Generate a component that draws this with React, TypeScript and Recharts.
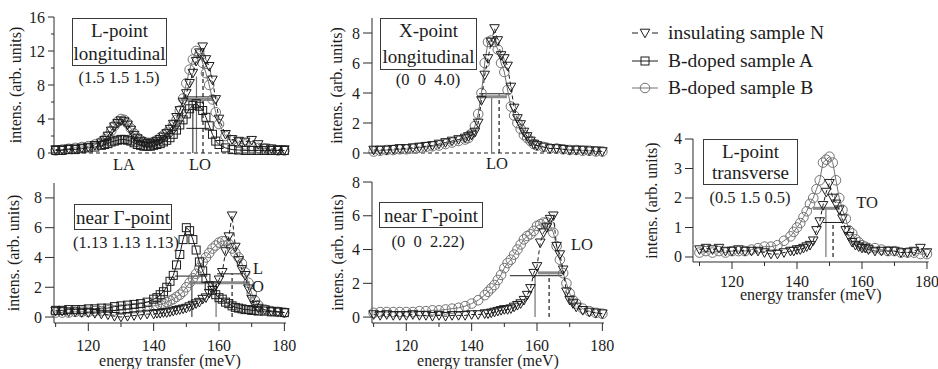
import React from 'react'
import { ScatterChart, Scatter, XAxis, YAxis, ReferenceLine } from 'recharts'

const FONT = '"Liberation Serif", "Times New Roman", Times, serif'
const INK = '#1c1c1c'
const GREY = '#727272'
const AXIS = '#2a2a2a'
const SVG_TEXT = { fontFamily: FONT, fontSize: 16, fill: INK }

// ---- data: energy transfer (meV) / intensity (arb. units) ----

// L-point longitudinal (1.5 1.5 1.5)
const eLLong = [110, 112, 114, 116, 118, 120, 122, 124,
  125, 126, 127, 128, 129, 130, 131, 132, 133, 134, 135, 136, 137, 138, 139, 140, 141, 142,
  143, 144, 145, 146, 147, 148, 149, 150, 151, 152, 153, 154, 155, 156, 157, 158, 159, 160,
  162, 164, 166, 168, 170, 172, 174, 176, 178, 180]
const lLongN = [0.4, 0.4, 0.5, 0.5, 0.6, 0.7, 0.9, 1.2,
  1.5, 2.0, 2.6, 3.1, 3.5, 3.8, 3.7, 3.3, 2.7, 2.1, 1.7, 1.4, 1.2, 1.1, 1.1, 1.2, 1.4, 1.6,
  1.9, 2.3, 2.8, 3.4, 4.2, 5.0, 6.0, 7.0, 8.2, 9.4, 10.8, 11.8, 12.5, 11.0, 10.2, 8.6, 6.3, 4.0,
  2.2, 1.6, 1.4, 1.3, 1.5, 1.0, 0.6, 0.5, 0.4, 0.4]
const lLongA = [0.3, 0.3, 0.4, 0.4, 0.5, 0.6, 0.7, 0.9,
  1.0, 1.1, 1.3, 1.4, 1.5, 1.6, 1.6, 1.5, 1.4, 1.2, 1.0, 0.9, 0.8, 0.8, 0.8, 0.9, 1.0, 1.1,
  1.3, 1.5, 1.8, 2.2, 2.7, 3.3, 3.9, 4.6, 5.2, 5.6, 5.8, 5.5, 5.0, 4.2, 3.2, 2.2, 1.4, 1.0,
  0.6, 0.4, 0.35, 0.3, 0.3, 0.3, 0.3, 0.3, 0.3, 0.3]
const lLongB = [0.3, 0.4, 0.5, 0.6, 0.7, 0.8, 1.0, 1.3,
  1.6, 2.0, 2.6, 3.2, 3.7, 4.0, 3.9, 3.5, 2.9, 2.3, 1.8, 1.5, 1.3, 1.2, 1.2, 1.3, 1.5, 1.8,
  2.1, 2.4, 2.8, 3.3, 3.9, 5.0, 6.4, 8.2, 9.8, 11.0, 12.0, 11.6, 10.6, 9.4, 8.0, 6.3, 4.8, 3.4,
  2.0, 1.5, 1.2, 1.0, 0.8, 0.6, 0.5, 0.4, 0.3, 0.3]

// X-point longitudinal (0 0 4.0)
const eXLong = [110, 112, 114, 116, 118, 120, 122, 124, 126, 128, 130, 132, 134, 136, 138,
  139, 140, 141, 142, 143, 144, 145, 146, 147, 148, 149, 150, 151, 152, 153, 154, 155, 156,
  157, 158, 159, 160, 162, 164, 166, 168, 170, 172, 174, 176, 178, 180]
const xLongN = [0.2, 0.2, 0.2, 0.25, 0.3, 0.3, 0.35, 0.4, 0.45, 0.5, 0.6, 0.7, 0.8, 0.9, 1.0,
  1.1, 1.2, 1.4, 2.0, 3.5, 5.2, 6.3, 7.4, 8.3, 7.5, 6.5, 6.3, 5.8, 4.4, 3.0, 2.3, 1.9, 1.4,
  1.1, 0.8, 0.6, 0.5, 0.4, 0.3, 0.3, 0.25, 0.2, 0.2, 0.2, 0.15, 0.15, 0.1]
const xLongB = [0.1, 0.15, 0.2, 0.2, 0.25, 0.25, 0.3, 0.35, 0.4, 0.45, 0.5, 0.6, 0.7, 0.8, 0.9,
  1.0, 1.3, 1.8, 2.6, 4.0, 6.0, 7.4, 7.5, 7.4, 6.9, 6.0, 5.4, 4.2, 3.1, 2.5, 2.0, 1.6, 1.2,
  1.0, 0.8, 0.6, 0.5, 0.4, 0.3, 0.3, 0.25, 0.2, 0.2, 0.15, 0.15, 0.1, 0.1]

// near Gamma-point (1.13 1.13 1.13)
const eGam1 = [110, 112, 114, 116, 118, 120, 122, 124, 126, 128, 130, 132, 134, 136, 138, 140,
  141, 142, 143, 144, 145, 146, 147, 148, 149, 150, 151, 152, 153, 154, 155, 156, 157, 158,
  159, 160, 161, 162, 163, 164, 165, 166, 167, 168, 169, 170, 171, 172, 174, 176, 178, 180]
const gam1N = [0.4, 0.4, 0.35, 0.35, 0.3, 0.3, 0.25, 0.2, 0.15, 0.05, 0.0, 0.05, 0.1, 0.15, 0.2, 0.2,
  0.25, 0.25, 0.3, 0.3, 0.35, 0.4, 0.45, 0.5, 0.55, 0.6, 0.7, 0.8, 0.9, 1.0, 1.2, 1.3, 1.6, 1.8,
  2.1, 2.5, 3.0, 4.4, 5.4, 6.8, 4.7, 3.8, 3.2, 2.8, 1.9, 1.2, 0.8, 0.6, 0.5, 0.4, 0.35, 0.3]
const gam1A = [0.45, 0.45, 0.5, 0.5, 0.5, 0.55, 0.55, 0.6, 0.6, 0.7, 0.75, 0.8, 0.85, 0.9, 1.0, 1.2,
  1.3, 1.5, 1.7, 2.0, 2.4, 2.8, 3.5, 4.2, 5.2, 6.0, 5.8, 5.2, 4.5, 3.7, 3.1, 2.6, 2.1, 1.8,
  1.5, 1.3, 1.2, 1.0, 0.9, 0.75, 0.65, 0.6, 0.55, 0.5, 0.5, 0.45, 0.45, 0.4, 0.4, 0.35, 0.35, 0.3]
const gam1B = [0.3, 0.3, 0.3, 0.35, 0.35, 0.35, 0.4, 0.4, 0.45, 0.45, 0.5, 0.55, 0.6, 0.65, 0.7, 0.75,
  0.8, 0.85, 0.9, 1.0, 1.1, 1.2, 1.35, 1.5, 1.7, 2.0, 2.3, 2.6, 2.9, 3.3, 3.7, 4.0, 4.3, 4.6,
  4.8, 5.0, 5.1, 5.1, 4.9, 4.6, 4.3, 4.0, 3.6, 3.0, 2.3, 1.6, 1.1, 0.8, 0.5, 0.4, 0.35, 0.3]

// near Gamma-point (0 0 2.22)
const eGam2 = [110, 112, 114, 116, 118, 120, 122, 124, 126, 128, 130, 132, 134, 136, 138, 140, 142, 144,
  145, 146, 147, 148, 149, 150, 151, 152, 153, 154, 155, 156, 157, 158, 159, 160, 161, 162,
  163, 164, 165, 166, 167, 168, 169, 170, 171, 172, 174, 176, 178, 180]
const gam2N = [0.15, 0.1, 0.15, 0.1, 0.1, 0.1, 0.15, 0.1, 0.1, 0.05, 0.1, 0.05, 0.1, 0.1, 0.1, 0.15, 0.15, 0.2,
  0.2, 0.25, 0.3, 0.35, 0.4, 0.45, 0.45, 0.5, 0.6, 0.7, 0.8, 1.0, 1.3, 1.7, 2.6, 3.0, 4.4, 5.0,
  5.3, 5.8, 6.0, 4.2, 3.7, 2.8, 1.5, 1.0, 0.8, 0.6, 0.4, 0.3, 0.25, 0.2]
const gam2B = [0.25, 0.3, 0.3, 0.3, 0.3, 0.3, 0.3, 0.35, 0.35, 0.4, 0.4, 0.45, 0.5, 0.55, 0.65, 0.8, 1.0, 1.3,
  1.5, 1.7, 1.9, 2.2, 2.5, 2.9, 3.2, 3.4, 3.7, 4.0, 4.3, 4.6, 4.8, 4.9, 5.1, 5.4, 5.5, 5.6,
  5.6, 5.4, 5.0, 4.2, 3.4, 2.6, 2.0, 1.4, 1.0, 0.8, 0.5, 0.35, 0.25, 0.2]

// L-point transverse (0.5 1.5 0.5)
const eLTrans = [110, 112, 114, 116, 118, 120, 122, 124, 126, 128, 130, 132, 134, 136, 138,
  139, 140, 141, 142, 143, 144, 145, 146, 147, 148, 149, 150, 151, 152, 153, 154, 155, 156,
  157, 158, 159, 160, 161, 162, 164, 166, 168, 170, 172, 174, 176, 178, 180]
const lTransN = [0.25, 0.3, 0.25, 0.3, 0.2, 0.2, 0.25, 0.2, 0.2, 0.2, 0.15, 0.1, 0.1, 0.15, 0.2,
  0.2, 0.25, 0.25, 0.3, 0.35, 0.4, 0.55, 0.9, 1.2, 1.75, 2.2, 2.5, 2.0, 1.8, 1.6, 1.3, 0.9, 0.7,
  0.5, 0.4, 0.35, 0.3, 0.3, 0.25, 0.2, 0.2, 0.2, 0.2, 0.15, 0.15, 0.2, 0.3, 0.15]
const lTransB = [0.15, 0.2, 0.15, 0.2, 0.15, 0.2, 0.2, 0.2, 0.25, 0.3, 0.35, 0.35, 0.4, 0.55, 0.7,
  0.85, 1.0, 1.15, 1.35, 1.55, 1.8, 2.0, 2.3, 2.6, 3.2, 3.3, 3.4, 3.2, 2.6, 2.0, 1.6, 1.3, 0.9,
  0.8, 0.6, 0.5, 0.4, 0.35, 0.3, 0.3, 0.25, 0.2, 0.2, 0.15, 0.15, 0.15, 0.1, 0.1]

// peak positions (vertical) and half-maximum widths (horizontal): [x1, y1, x2, y2, style]
// k = black, g = grey, d = black dashed, G = thick grey
type Mark = [number, number, number, number, 'k' | 'g' | 'd' | 'G']
const lLongMarks: Mark[] = [
  [152.0, 0, 152.0, 5.5, 'k'], [153.1, 0, 153.1, 9.0, 'g'], [155.1, 0, 155.1, 11.8, 'd'],
  [148.2, 6.3, 158.2, 6.3, 'G'], [149.0, 6.6, 158.8, 6.6, 'k'], [150.0, 2.9, 157.0, 2.9, 'k'],
]
const xLongMarks: Mark[] = [
  [146.1, 0, 146.1, 3.8, 'g'], [148.4, 0, 148.4, 3.9, 'd'],
  [141.8, 3.75, 150.8, 3.75, 'G'], [142.3, 3.95, 152.1, 3.95, 'k'],
]
const gam1Marks: Mark[] = [
  [151.7, 0, 151.7, 2.75, 'k'], [159.1, 0, 159.1, 2.3, 'g'], [164.0, 0, 164.0, 2.9, 'd'],
  [146.5, 2.75, 156.4, 2.75, 'k'], [151.1, 2.3, 169.5, 2.3, 'G'], [159.4, 2.9, 167.4, 2.9, 'k'],
]
const gam2Marks: Mark[] = [
  [159.4, 0, 159.4, 2.5, 'g'], [163.7, 0, 163.7, 2.5, 'd'],
  [151.7, 2.45, 167.7, 2.45, 'k'], [160.3, 2.62, 167.7, 2.62, 'G'],
]
const lTransMarks: Mark[] = [
  [148.9, 0, 148.9, 1.65, 'g'], [151.1, 0, 151.1, 1.17, 'd'],
  [144.9, 1.65, 153.2, 1.65, 'G'], [148.0, 1.17, 154.5, 1.17, 'k'],
]

const X_TICKS = [110, 120, 130, 140, 150, 160, 170, 180]

type Pt = { x: number; y: number }
const pts = (xs: number[], ys: number[]): Pt[] => xs.map((x, i) => ({ x, y: ys[i] }))

type Kind = 'N' | 'A' | 'B'

function TriDown(p: any) {
  const { cx, cy } = p
  if (cx == null || cy == null) return <g />
  return (
    <path d={`M${cx - 4.8},${cy - 3.8}L${cx + 4.8},${cy - 3.8}L${cx},${cy + 4.8}Z`}
      fill="none" stroke={INK} strokeWidth={1} />
  )
}
function Square(p: any) {
  const { cx, cy } = p
  if (cx == null || cy == null) return <g />
  return <rect x={cx - 4} y={cy - 4} width={8} height={8} fill="none" stroke={INK} strokeWidth={1} />
}
function Ring(p: any) {
  const { cx, cy } = p
  if (cx == null || cy == null) return <g />
  return <circle cx={cx} cy={cy} r={4.8} fill="none" stroke={GREY} strokeWidth={1} />
}

const SHAPES: Record<Kind, any> = { N: TriDown, A: Square, B: Ring }
const LINES: Record<Kind, any> = {
  N: { stroke: INK, strokeWidth: 1, strokeDasharray: '4 3' },
  A: { stroke: INK, strokeWidth: 1 },
  B: { stroke: GREY, strokeWidth: 1 },
}
const MARK_STYLE: Record<string, any> = {
  k: { stroke: INK, strokeWidth: 1 },
  g: { stroke: GREY, strokeWidth: 1.2 },
  d: { stroke: INK, strokeWidth: 1.2, strokeDasharray: '4 3' },
  G: { stroke: '#8a8a8a', strokeWidth: 3 },
}

interface PanelProps {
  left: number
  top: number
  w: number
  h: number
  xDomain: [number, number]
  yDomain: [number, number]
  yTicks: number[]
  yLabels: number[]
  yTickLen: number
  titleOff: number
  showX?: boolean
  xTickLen?: number
  tickDy?: number
  titleDy?: number
  baseline?: boolean
  series: { kind: Kind; data: Pt[] }[]
  marks: Mark[]
}

function Panel(props: PanelProps) {
  const { left, top, w, h, xDomain, yDomain, yTicks, yLabels, yTickLen, titleOff,
    showX = false, xTickLen = 8, tickDy = 29, titleDy = 45, baseline = false, series, marks } = props
  const axisW = 50
  const mTop = 12
  const width = axisW + w + 10
  const height = mTop + h + 10 + (showX ? 50 : 0)

  const yTick = (p: any) => {
    const v = p.payload.value
    const major = yLabels.includes(v)
    return (
      <g>
        <line x1={p.x} x2={p.x - (major ? yTickLen : yTickLen / 2)} y1={p.y} y2={p.y} stroke={AXIS} />
        {major && (
          <text x={p.x - yTickLen - 3} y={p.y + 5.5} textAnchor="end" style={SVG_TEXT}>{v}</text>
        )}
      </g>
    )
  }
  const xTick = (p: any) => {
    const v = p.payload.value
    const major = v % 20 === 0
    return (
      <g>
        <line x1={p.x} x2={p.x} y1={p.y} y2={p.y + (major ? xTickLen : 4)} stroke={AXIS} />
        {major && (
          <text x={p.x} y={p.y + tickDy} textAnchor="middle" style={SVG_TEXT}>{v}</text>
        )}
      </g>
    )
  }
  const yTitle = () => {
    const tx = axisW - titleOff
    const ty = mTop + h / 2
    return (
      <text x={tx} y={ty} transform={`rotate(-90 ${tx} ${ty})`} textAnchor="middle"
        dominantBaseline="central" style={SVG_TEXT}>
        intens. (arb. units)
      </text>
    )
  }
  const xTitle = () => (
    <text x={axisW + w / 2} y={mTop + h + titleDy} textAnchor="middle" style={SVG_TEXT}>
      energy transfer (meV)
    </text>
  )

  return (
    <div style={{ position: 'absolute', left: left - axisW, top: top - mTop }}>
      <ScatterChart width={width} height={height} margin={{ top: mTop, right: 10, bottom: 10, left: 0 }}>
        <XAxis type="number" dataKey="x" domain={xDomain} hide={!showX} ticks={X_TICKS}
          interval={0} height={50} tickSize={0} tickMargin={0} tickLine={false}
          axisLine={{ stroke: AXIS }} tick={xTick} label={xTitle} />
        <YAxis type="number" dataKey="y" domain={yDomain} ticks={yTicks} interval={0}
          width={axisW} tickSize={0} tickMargin={0} tickLine={false}
          axisLine={{ stroke: AXIS }} tick={yTick} label={yTitle} />
        {baseline && <ReferenceLine y={0} stroke={INK} strokeDasharray="4 3" />}
        {series.map((s, i) => (
          <Scatter key={i} data={s.data} shape={SHAPES[s.kind]} line={LINES[s.kind]}
            lineType="joint" isAnimationActive={false} />
        ))}
        {marks.map((m, i) => (
          <ReferenceLine key={`m${i}`} segment={[{ x: m[0], y: m[1] }, { x: m[2], y: m[3] }]}
            ifOverflow="visible" {...MARK_STYLE[m[4]]} />
        ))}
      </ScatterChart>
    </div>
  )
}

function Note({ x, y, text, size = 16.5 }: { x: number; y: number; text: string; size?: number }) {
  return (
    <div style={{
      position: 'absolute', left: x, top: y, transform: 'translate(-50%, -50%)',
      whiteSpace: 'pre', fontSize: size, lineHeight: 1, color: INK,
    }}>{text}</div>
  )
}

function Box({ left, top, width, height, lines, pitch = 23 }:
  { left: number; top: number; width: number; height: number; lines: string[]; pitch?: number }) {
  return (
    <div style={{
      position: 'absolute', left, top, width, height, boxSizing: 'border-box',
      border: '1px solid #3a3a3a', display: 'flex', flexDirection: 'column',
      justifyContent: 'center', alignItems: 'center', fontSize: 19, lineHeight: `${pitch}px`,
      color: INK, whiteSpace: 'pre',
    }}>
      {lines.map((l) => <div key={l}>{l}</div>)}
    </div>
  )
}

function LegendRow({ y, kind, text }: { y: number; kind: Kind; text: string }) {
  const Shape = SHAPES[kind]
  const line = LINES[kind]
  return (
    <>
      <svg style={{ position: 'absolute', left: 630, top: y - 10 }} width={30} height={20}>
        <line x1={2} x2={28} y1={10} y2={10} {...line} strokeDasharray={kind === 'N' ? '6 14' : undefined} />
        <Shape cx={15} cy={10} />
      </svg>
      <div style={{
        position: 'absolute', left: 668, top: y - 12, fontSize: 19.5, lineHeight: '24px',
        color: INK, whiteSpace: 'nowrap',
      }}>{text}</div>
    </>
  )
}

export default function App() {
  const leftX: [number, number] = [109.5, 180.5]
  return (
    <div style={{
      position: 'absolute', left: 0, top: 0, width: 938, height: 369, overflow: 'hidden',
      background: '#fff', fontFamily: FONT,
    }}>
      <Panel left={54} top={17} w={232} h={136} xDomain={leftX} yDomain={[0, 16]}
        yTicks={[0, 2, 4, 6, 8, 10, 12, 14, 16]} yLabels={[0, 4, 8, 12, 16]} yTickLen={6}
        titleOff={39} baseline marks={lLongMarks}
        series={[
          { kind: 'B', data: pts(eLLong, lLongB) },
          { kind: 'A', data: pts(eLLong, lLongA) },
          { kind: 'N', data: pts(eLLong, lLongN) },
        ]} />
      <Panel left={372} top={18} w={232} h={135} xDomain={leftX} yDomain={[0, 9]}
        yTicks={[0, 2, 4, 6, 8]} yLabels={[0, 2, 4, 6, 8]} yTickLen={9}
        titleOff={36} baseline marks={xLongMarks}
        series={[
          { kind: 'B', data: pts(eXLong, xLongB) },
          { kind: 'N', data: pts(eXLong, xLongN) },
        ]} />
      <Panel left={54} top={183} w={232} h={140} xDomain={leftX} yDomain={[-0.4, 9]}
        yTicks={[0, 2, 4, 6, 8]} yLabels={[0, 2, 4, 6, 8]} yTickLen={9}
        titleOff={41} showX tickDy={28} titleDy={43} marks={gam1Marks}
        series={[
          { kind: 'B', data: pts(eGam1, gam1B) },
          { kind: 'N', data: pts(eGam1, gam1N) },
          { kind: 'A', data: pts(eGam1, gam1A) },
        ]} />
      <Panel left={372} top={182} w={232} h={141} xDomain={leftX} yDomain={[-0.35, 8]}
        yTicks={[0, 2, 4, 6, 8]} yLabels={[0, 2, 4, 6, 8]} yTickLen={9}
        titleOff={35} showX tickDy={28} titleDy={43} marks={gam2Marks}
        series={[
          { kind: 'B', data: pts(eGam2, gam2B) },
          { kind: 'N', data: pts(eGam2, gam2N) },
        ]} />
      <Panel left={693} top={139} w={235.6} h={123} xDomain={[108, 180.5]} yDomain={[-0.17, 4]}
        yTicks={[0, 1, 2, 3, 4]} yLabels={[0, 1, 2, 3, 4]} yTickLen={8}
        titleOff={41} showX xTickLen={7} tickDy={25} titleDy={38} marks={lTransMarks}
        series={[
          { kind: 'B', data: pts(eLTrans, lTransB) },
          { kind: 'N', data: pts(eLTrans, lTransN) },
        ]} />

      <Box left={72} top={18} width={95} height={48} lines={['L-point', 'longitudinal']} />
      <Note x={119} y={78} text="(1.5 1.5 1.5)" />
      <Note x={124} y={165} text="LA" />
      <Note x={200} y={165} text="LO" />

      <Box left={380} top={18} width={97} height={52} lines={['X-point', 'longitudinal']} pitch={26} />
      <Note x={428} y={80} text="(0  0  4.0)" />
      <Note x={497} y={164} text="LO" />

      <Box left={74} top={204} width={98} height={26} lines={['near Γ-point']} />
      <Note x={126} y={243} text="(1.13 1.13 1.13)" />
      <Note x={258} y={269} text="L" />
      <Note x={258} y={287} text="O" />

      <Box left={379} top={202} width={104} height={26} lines={['near Γ-point']} />
      <Note x={428} y={242} text="(0  0  2.22)" />
      <Note x={582} y={245} text="LO" />

      <Box left={703} top={139} width={95} height={46} lines={['L-point', 'transverse']} pitch={21} />
      <Note x={750} y={198} text="(0.5 1.5 0.5)" />
      <Note x={867} y={203} text="TO" />

      <LegendRow y={33} kind="N" text="insulating sample N" />
      <LegendRow y={61} kind="A" text="B-doped sample A" />
      <LegendRow y={88} kind="B" text="B-doped sample B" />
    </div>
  )
}
